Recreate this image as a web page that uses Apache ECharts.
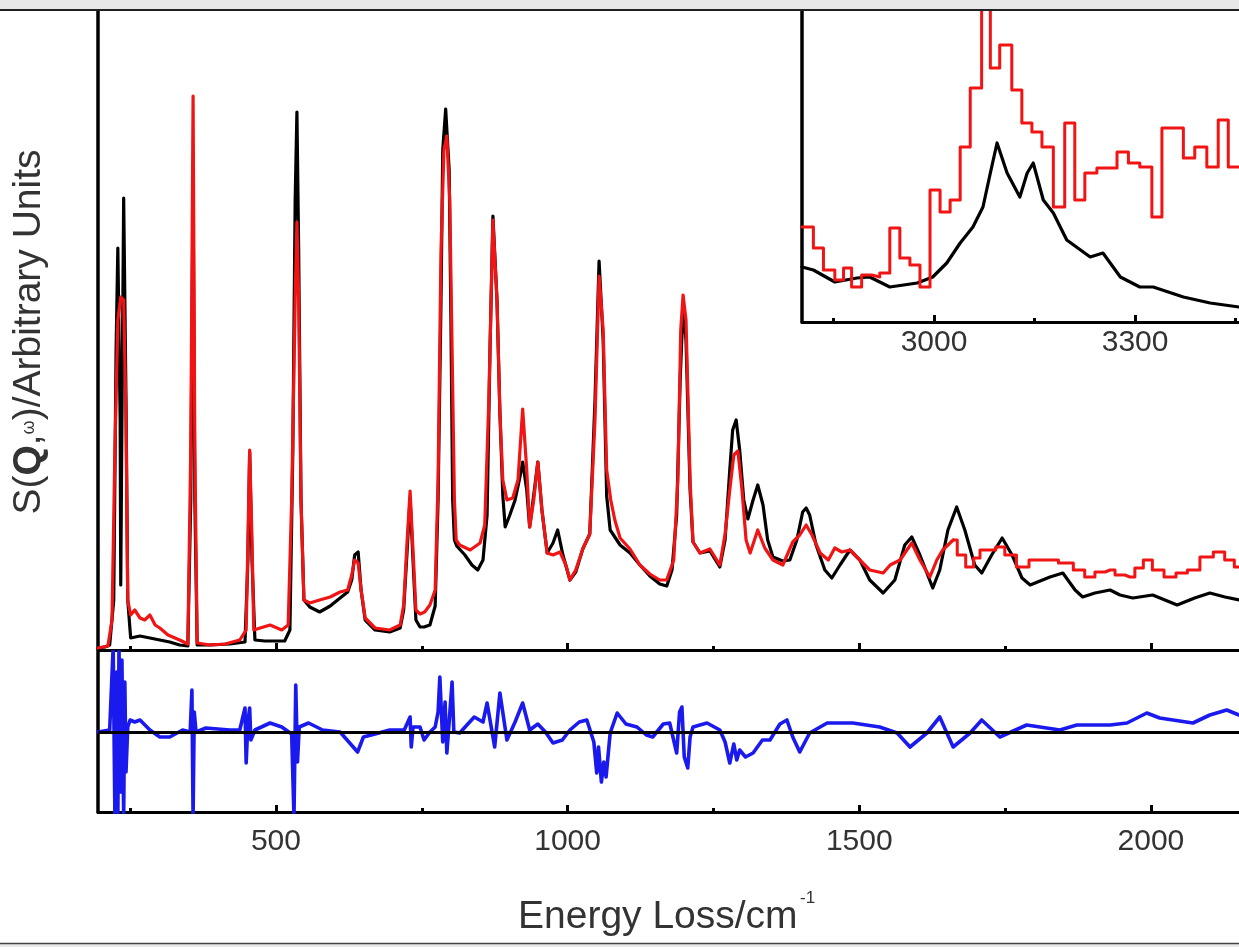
<!DOCTYPE html>
<html>
<head>
<meta charset="utf-8">
<script src="https://cdn.jsdelivr.net/npm/echarts@6/dist/echarts.min.js"></script>
<style>
  html, body { margin: 0; padding: 0; background: #fff; }
  #chart { width: 1239px; height: 947px; }
</style>
</head>
<body>
<div id="chart"></div>
<script>
// tick positions (cm-1)
const mainMajorTicks = [500, 1000, 1500, 2000]
const mainMinorTicks = [250, 750, 1250, 1750]
const insetMajorTicks = [3000, 3300]
const insetMinorTicks = [2850, 3150, 3450]

// calculated spectrum (black), [energy, intensity]
const blackMain = [
  [195,2],[207,3],[215,5],[222,50],[226,300],[229,402],[233,230],[234,65],[236,230],[239,452],[243,250],[246,50],
  [251,12],[267,14],[284,12],[301,10],[318,8],[335,5],[349,4],[354,150],[358,465],[361,150],[365,5],[387,5],
  [421,6],[447,8],[452,90],[455,198],[459,90],[464,10],[481,9],[515,9],[524,20],[529,200],[533,450],[536,538],
  [539,400],[543,150],[548,50],[558,43],[575,38],[593,44],[610,52],[623,58],[630,70],[635,95],[641,98],[646,60],
  [653,30],[670,20],[695,18],[713,22],[719,40],[725,100],[730,152],[735,90],[740,30],[747,23],[754,23],[764,25],
  [773,44],[778,150],[783,350],[786,500],[791,541],[797,480],[800,330],[803,150],[806,110],[810,104],[824,95],
  [836,85],[846,80],[855,90],[862,135],[867,300],[872,434],[879,350],[884,237],[889,154],[893,123],[901,135],
  [910,150],[918,172],[923,188],[930,160],[935,123],[942,155],[949,188],[956,140],[965,97],[975,107],[983,120],
  [992,95],[1004,70],[1014,78],[1026,101],[1038,116],[1047,250],[1054,389],[1061,310],[1067,154],[1073,120],
  [1090,105],[1107,97],[1124,85],[1141,74],[1158,66],[1170,64],[1179,80],[1187,135],[1193,270],[1198,343],
  [1203,310],[1210,160],[1215,108],[1227,97],[1244,99],[1261,83],[1270,110],[1278,180],[1283,220],[1289,230],
  [1295,200],[1302,150],[1309,131],[1318,150],[1326,165],[1335,145],[1343,110],[1352,93],[1369,89],[1381,90],
  [1393,110],[1403,138],[1409,142],[1415,135],[1426,105],[1441,80],[1453,72],[1467,85],[1484,100],[1501,90],
  [1518,70],[1541,57],[1561,70],[1578,105],[1590,113],[1604,95],[1626,62],[1638,80],[1652,120],[1667,143],
  [1681,120],[1698,85],[1710,77],[1727,95],[1745,112],[1762,95],[1779,72],[1793,65],[1827,73],[1849,77],
  [1870,60],[1883,53],[1904,57],[1930,60],[1947,55],[1969,52],[2003,55],[2024,50],[2045,45],[2075,52],
  [2101,57],[2127,53],[2151,50]
]

// experimental spectrum (red)
const redMain = [
  [195,2],[212,4],[219,30],[224,200],[229,330],[234,353],[239,350],[243,230],[246,50],[251,35],[258,40],[267,32],
  [275,30],[284,35],[293,25],[301,22],[315,15],[335,10],[349,6],[354,200],[358,554],[361,200],[365,7],[387,5],
  [413,6],[438,10],[449,20],[452,110],[455,200],[459,110],[462,20],[473,22],[490,25],[510,20],[521,25],[527,150],
  [533,350],[536,428],[539,350],[543,150],[548,50],[558,47],[575,50],[593,53],[610,58],[623,60],[630,75],[635,90],
  [641,87],[646,60],[653,32],[670,22],[695,20],[713,25],[719,45],[725,110],[730,159],[735,100],[740,40],[747,36],
  [755,38],[764,45],[773,60],[778,170],[783,400],[788,500],[793,514],[798,450],[802,300],[806,150],[809,110],
  [815,105],[833,100],[850,107],[858,125],[865,250],[872,430],[879,350],[884,237],[889,170],[896,150],[906,152],
  [915,170],[923,241],[930,180],[935,123],[942,150],[949,188],[956,140],[965,97],[975,95],[987,98],[997,85],
  [1004,70],[1014,80],[1026,101],[1038,116],[1047,230],[1054,374],[1061,320],[1067,180],[1074,150],[1081,130],
  [1090,112],[1107,101],[1124,85],[1141,76],[1158,70],[1170,70],[1182,90],[1189,170],[1194,320],[1198,355],
  [1203,330],[1210,170],[1215,108],[1227,97],[1244,101],[1261,85],[1270,116],[1278,160],[1285,195],[1292,199],
  [1299,160],[1306,110],[1313,97],[1326,120],[1338,102],[1352,90],[1369,85],[1386,108],[1398,115],[1409,125],
  [1419,115],[1433,97],[1447,90],[1458,102],[1470,98],[1484,100],[1501,90],[1518,80],[1541,77],[1553,85],
  [1570,90],[1590,107],[1604,90],[1621,73],[1633,90],[1643,100],[1661,110]
]

// experimental, histogram-like high energy part
const redMainTail = [
  [1661,110],[1675,95],[1690,83],[1702,92],[1712,100],[1727,100],[1741,103],[1758,95],[1781,83],[1801,90],
  [1827,90],[1856,87],[1878,80],[1895,73],[1913,78],[1930,80],[1947,75],[1964,73],[1981,82],[1993,90],
  [2012,80],[2033,73],[2053,77],[2072,80],[2096,93],[2118,98],[2135,90],[2151,83]
]

// difference (blue)
const residual = [
  [195,0],[215,2],[217,0],[221,85],[224,-85],[227,60],[229,-85],[231,85],[234,-60],[236,72],[239,-85],[241,50],
  [243,-40],[246,5],[250,12],[258,10],[267,12],[284,2],[301,-5],[318,-5],[340,2],[353,0],[356,42],[358,-85],
  [360,20],[363,0],[380,4],[421,2],[438,2],[447,24],[449,-31],[452,10],[455,24],[457,-8],[464,2],[490,9],
  [510,5],[527,-2],[531,-85],[534,47],[537,-30],[540,5],[556,9],[580,2],[610,0],[640,-20],[650,-5],[670,-2],
  [695,2],[720,2],[730,15],[732,-15],[735,5],[747,5],[754,-8],[764,0],[773,5],[778,20],[781,55],[786,-10],
  [790,30],[793,-21],[797,10],[802,50],[805,0],[815,-1],[840,15],[855,10],[862,29],[875,-15],[884,39],[896,-8],
  [910,10],[923,29],[935,2],[949,8],[962,0],[975,-11],[991,-8],[1004,2],[1020,10],[1033,12],[1045,-10],
  [1050,-41],[1053,-15],[1058,-50],[1062,-30],[1066,-45],[1073,-1],[1085,19],[1100,8],[1119,5],[1135,-3],
  [1146,-5],[1164,8],[1175,9],[1187,-21],[1192,20],[1196,25],[1200,-25],[1206,-36],[1210,-5],[1215,5],
  [1239,9],[1261,2],[1270,-10],[1278,-31],[1285,-12],[1290,-28],[1295,-18],[1305,-25],[1318,-21],[1334,-8],
  [1347,-8],[1364,8],[1376,12],[1386,-5],[1398,-20],[1415,-1],[1445,9],[1476,9],[1489,9],[1535,5],[1565,-1],
  [1587,-15],[1616,-1],[1638,15],[1661,-15],[1690,-1],[1710,12],[1741,-5],[1787,7],[1844,2],[1873,7],
  [1930,7],[1959,9],[1993,19],[2015,14],[2072,9],[2101,17],[2130,22],[2151,17]
]

// inset: C-H stretch region
const blackInset = [
  [2803,55],[2820,52],[2852,40],[2885,44],[2904,45],[2934,35],[2975,39],[2998,45],[3019,59],[3039,79],
  [3058,95],[3073,115],[3084,149],[3094,179],[3109,149],[3128,125],[3139,149],[3148,159],[3163,122],
  [3178,109],[3198,82],[3233,65],[3252,69],[3278,45],[3307,35],[3327,35],[3372,25],[3412,19],[3455,15]
]
const redInset = [
  [2803,95],[2820,74],[2835,52],[2852,42],[2865,54],[2877,35],[2892,47],[2907,45],[2919,49],[2934,94],
  [2949,64],[2964,57],[2979,35],[2994,132],[3009,110],[3024,122],[3039,175],[3054,234],[3071,340],[3084,254],
  [3098,277],[3116,232],[3131,199],[3146,190],[3161,175],[3178,115],[3195,199],[3210,122],[3225,149],
  [3243,154],[3273,170],[3290,159],[3307,155],[3325,105],[3340,194],[3372,164],[3389,175],[3407,155],
  [3424,202],[3439,155],[3455,155]
]

const FONT = "'Liberation Sans', Arial, Helvetica, sans-serif"
const AX = '#000'

const majorAxis = (grid, min, max, ticks, labels, margin) => ({
  type: 'value', gridIndex: grid, min: min, max: max, position: 'bottom',
  axisLine: { show: true, onZero: false, lineStyle: { color: AX, width: 3 } },
  axisTick: { show: true, inside: true, length: 7, lineStyle: { color: AX, width: 3 }, customValues: ticks },
  axisLabel: labels
    ? { show: true, customValues: ticks, fontSize: 30, color: '#333', fontFamily: FONT, margin: margin,
        formatter: (v) => String(v) }
    : { show: false },
  splitLine: { show: false }
})
const minorAxis = (grid, min, max, ticks) => ({
  type: 'value', gridIndex: grid, min: min, max: max, position: 'bottom',
  axisLine: { show: false, onZero: false },
  axisTick: { show: true, inside: true, length: 4, lineStyle: { color: AX, width: 3 }, customValues: ticks },
  axisLabel: { show: false },
  splitLine: { show: false }
})
const plainY = (grid, min, max) => ({
  type: 'value', gridIndex: grid, min: min, max: max,
  axisLine: { show: true, onZero: false, lineStyle: { color: AX, width: 3.5 } },
  axisTick: { show: false }, axisLabel: { show: false }, splitLine: { show: false }
})
const curve = (data, color, xi, yi, width, z, step) => ({
  type: 'line', data: data, xAxisIndex: xi, yAxisIndex: yi, showSymbol: false, symbol: 'none',
  step: step || false, z: z,
  lineStyle: { color: color, width: width, join: 'round', cap: 'round' }, itemStyle: { color: color }
})

const chart = echarts.init(document.getElementById('chart'))
chart.setOption({
  animation: false,
  backgroundColor: '#fff',
  grid: [
    { left: 98, top: 10, right: 0, bottom: 297 },
    { left: 98, top: 652, right: 0, bottom: 135 },
    { left: 802, top: 10, right: 0, bottom: 625 }
  ],
  xAxis: [
    majorAxis(0, 195, 2151, mainMajorTicks, false),
    minorAxis(0, 195, 2151, mainMinorTicks),
    majorAxis(1, 195, 2151, mainMajorTicks, true, 15),
    minorAxis(1, 195, 2151, mainMinorTicks),
    majorAxis(2, 2803, 3455, insetMajorTicks, true, 6),
    minorAxis(2, 2803, 3455, insetMinorTicks)
  ],
  yAxis: [plainY(0, 0, 640), plainY(1, -80, 80), plainY(2, 0, 312)],
  series: [
    curve(blackMain, '#000', 0, 0, 3.2, 2),
    curve(redMain, '#f01414', 0, 0, 3.2, 3),
    curve(redMainTail, '#f01414', 0, 0, 3, 3, 'middle'),
    {
      type: 'line', data: [], xAxisIndex: 2, yAxisIndex: 1, z: 1,
      markLine: {
        silent: true, symbol: 'none', label: { show: false },
        lineStyle: { color: '#000', width: 3, type: 'solid' },
        data: [{ yAxis: 0 }]
      }
    },
    curve(residual, '#1a1aee', 2, 1, 3.6, 3),
    curve(blackInset, '#000', 4, 2, 3.2, 2),
    curve(redInset, '#f01414', 4, 2, 3, 3, 'end')
  ],
  graphic: [
    { type: 'rect', shape: { x: 0, y: 0, width: 1239, height: 9 }, style: { fill: '#e8e8e8' }, z: 10 },
    { type: 'line', shape: { x1: 0, y1: 10, x2: 1239, y2: 10 }, style: { stroke: '#222', lineWidth: 2 }, z: 10 },
    { type: 'rect', shape: { x: 0, y: 944, width: 1239, height: 3 }, style: { fill: '#e8e8e8' }, z: 10 },
    { type: 'line', shape: { x1: 0, y1: 943.5, x2: 1239, y2: 943.5 }, style: { stroke: '#444', lineWidth: 1.5 }, z: 10 },
    {
      type: 'text', x: 518, y: 917, z: 10,
      style: { text: 'Energy Loss/cm', font: '39px ' + FONT, fill: '#333', align: 'left', verticalAlign: 'middle' }
    },
    {
      type: 'text', x: 800, y: 898, z: 10,
      style: { text: '-1', font: '17px ' + FONT, fill: '#333', align: 'left', verticalAlign: 'middle' }
    },
    {
      type: 'text', x: 29, y: 332, rotation: Math.PI / 2, z: 10,
      style: {
        text: '{a|S(}{b|Q}{a|,}{c|ω}{a|)/Arbitrary Units}',
        align: 'center', verticalAlign: 'middle',
        rich: {
          a: { fontSize: 39, fontFamily: FONT, fill: '#333', color: '#333' },
          b: { fontSize: 39, fontFamily: FONT, fontWeight: 'bold', fill: '#333', color: '#333' },
          c: { fontSize: 18, fontFamily: FONT, fill: '#333', color: '#333' }
        }
      }
    }
  ]
})
</script>
</body>
</html>
